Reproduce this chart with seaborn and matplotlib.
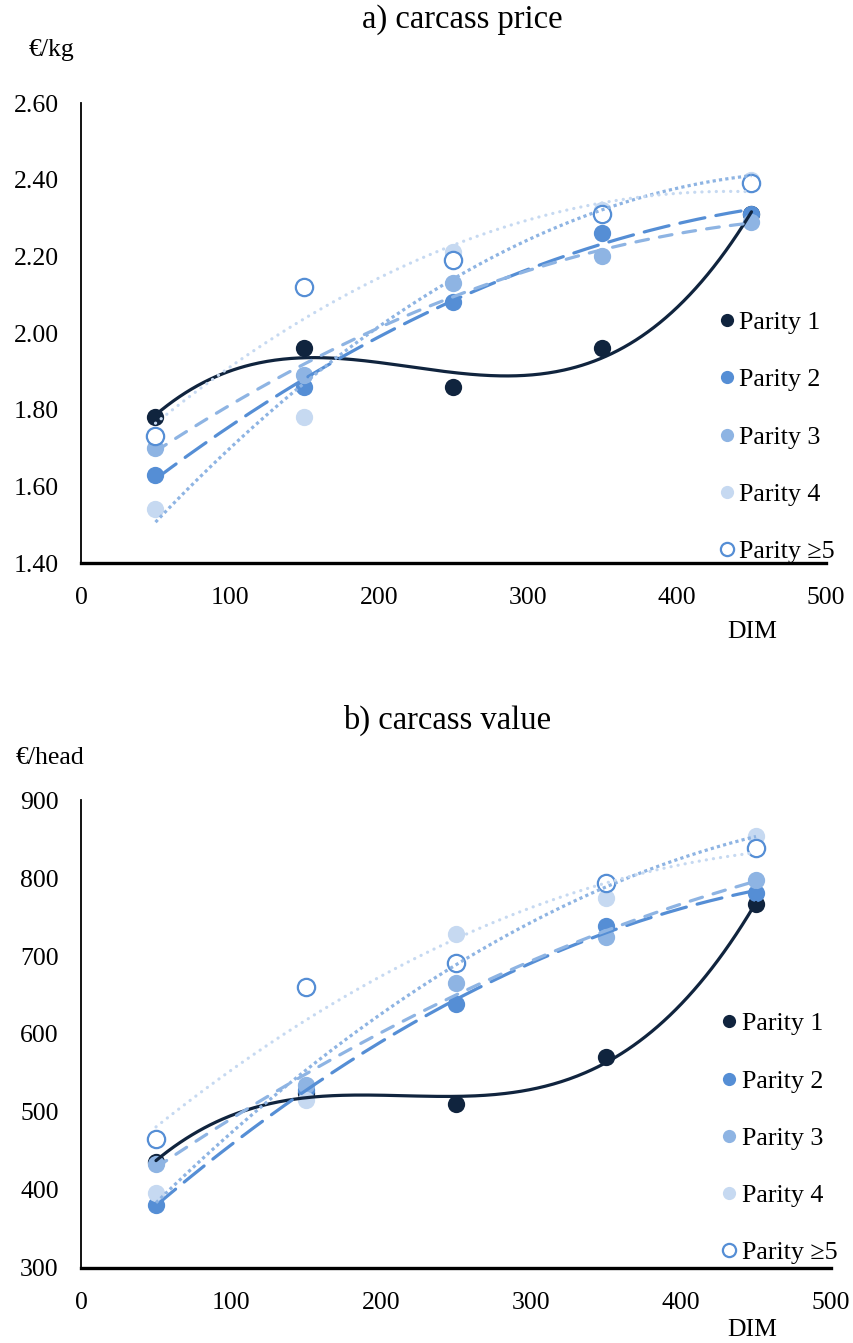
import numpy as np
import pandas as pd
import matplotlib
matplotlib.use("Agg")
import matplotlib.pyplot as plt
from matplotlib.lines import Line2D
import seaborn as sns

# Days in milk at which carcasses were evaluated
dim = [50, 150, 250, 350, 450]

# a) carcass price, EUR/kg, by parity
price_p1 = [1.78, 1.96, 1.86, 1.96, 2.31]
price_p2 = [1.63, 1.86, 2.08, 2.26, 2.31]
price_p3 = [1.70, 1.89, 2.13, 2.20, 2.29]
price_p4 = [1.54, 1.78, 2.21, 2.32, 2.40]
price_p5 = [1.73, 2.12, 2.19, 2.31, 2.39]

# b) carcass value, EUR/head, by parity
value_p1 = [436, 525, 510, 570, 767]
value_p2 = [381, 528, 638, 738, 781]
value_p3 = [433, 535, 666, 725, 797]
value_p4 = [396, 516, 728, 774, 854]
value_p5 = [465, 660, 691, 793, 838]

labels = ["Parity 1", "Parity 2", "Parity 3", "Parity 4", "Parity \u22655"]

price_ticks = [1.40, 1.60, 1.80, 2.00, 2.20, 2.40, 2.60]
value_ticks = [300, 400, 500, 600, 700, 800, 900]
dim_ticks = [0, 100, 200, 300, 400, 500]

sns.set_theme(style="white")
plt.rcParams["font.family"] = ["Liberation Serif", "DejaVu Serif"]
plt.rcParams["text.color"] = "black"
plt.rcParams["xtick.color"] = "black"
plt.rcParams["ytick.color"] = "black"

NAVY = "#10243E"
MID = "#558ED5"
SOFT = "#8EB4E3"
PALE = "#C6D9F1"

# marker style per parity: (face, edge)
marker_styles = [(NAVY, NAVY), (MID, MID), (SOFT, SOFT), (PALE, PALE), ("white", MID)]
# trend line per parity: (colour, degree, dashes, capstyle)
trend_styles = [
    (NAVY, 3, None, "round"),
    (MID, 2, (8, 3.5), "round"),
    (SOFT, 2, (4, 3.5), "round"),
    (SOFT, 2, (1, 1), "butt"),
    (PALE, 2, (0.05, 2.2), "round"),
]

fig = plt.figure(figsize=(8.54, 13.43), dpi=100)
ax_a = fig.add_axes([81 / 854, 1 - 563 / 1343, 745 / 854, 460 / 1343])
ax_b = fig.add_axes([81 / 854, 1 - 1268 / 1343, 750 / 854, 468 / 1343])


def draw_panel(ax, series, yticks, yfmt, ylim, legend_anchor):
    xs = np.linspace(dim[0], dim[-1], 300)
    for vals, lab, (fc, ec) in zip(series, labels, marker_styles):
        df = pd.DataFrame({"DIM": dim, "y": vals})
        sns.scatterplot(data=df, x="DIM", y="y", ax=ax, s=155, color=fc,
                        edgecolor=ec, linewidth=1.6 if fc == "white" else 0,
                        zorder=3, legend=False)
    for vals, (col, deg, dashes, cap) in zip(series, trend_styles):
        coef = np.polyfit(dim, vals, deg)
        line, = ax.plot(xs, np.polyval(coef, xs), color=col, lw=2.3, zorder=4,
                        solid_capstyle="round", dash_capstyle=cap)
        if dashes is not None:
            line.set_dashes(dashes)
    ax.set_xlim(0, 500)
    ax.set_ylim(*ylim)
    ax.set_xticks(dim_ticks)
    ax.set_yticks(yticks)
    ax.set_xticklabels([str(t) for t in dim_ticks])
    ax.set_yticklabels([yfmt.format(t) for t in yticks])
    ax.set_xlabel("")
    ax.set_ylabel("")
    ax.tick_params(axis="x", length=0, pad=17, labelsize=18.5, colors="black")
    ax.tick_params(axis="y", length=0, pad=16, labelsize=18.5, colors="black")
    for side in ("top", "right"):
        ax.spines[side].set_visible(False)
    ax.spines["left"].set_color("black")
    ax.spines["left"].set_linewidth(1.3)
    ax.spines["bottom"].set_color("black")
    ax.spines["bottom"].set_linewidth(2.4)
    ax.grid(False)
    handles = [Line2D([], [], ls="none", marker="o", markersize=9.5,
                      markerfacecolor=fc, markeredgecolor=ec,
                      markeredgewidth=1.6 if fc == "white" else 0)
               for fc, ec in marker_styles]
    ax.legend(handles, labels, loc="lower right", bbox_to_anchor=legend_anchor,
              frameon=False, fontsize=18.7, handlelength=0.55, handletextpad=0.2,
              labelspacing=1.31, borderaxespad=0, borderpad=0)


draw_panel(ax_a, [price_p1, price_p2, price_p3, price_p4, price_p5],
           price_ticks, "{:.2f}", (1.40, 2.60), (1.0115, 0.0))
draw_panel(ax_b, [value_p1, value_p2, value_p3, value_p4, value_p5],
           value_ticks, "{:d}", (300, 900), (1.0085, 0.008))

fig.text(462 / 854, 1 - 20 / 1343, "a) carcass price", ha="center", va="center", fontsize=23.5)
fig.text(447 / 854, 1 - 720 / 1343, "b) carcass value", ha="center", va="center", fontsize=23.5)
fig.text(52 / 854, 1 - 50 / 1343, "\u20ac/kg", ha="center", va="center", fontsize=18.5)
fig.text(50 / 854, 1 - 758 / 1343, "\u20ac/head", ha="center", va="center", fontsize=18.5)
fig.text(752 / 854, 1 - 632 / 1343, "DIM", ha="center", va="center", fontsize=18.5)
fig.text(752 / 854, 1 - 1330 / 1343, "DIM", ha="center", va="center", fontsize=18.5)

fig.savefig("out.png", dpi=100)
